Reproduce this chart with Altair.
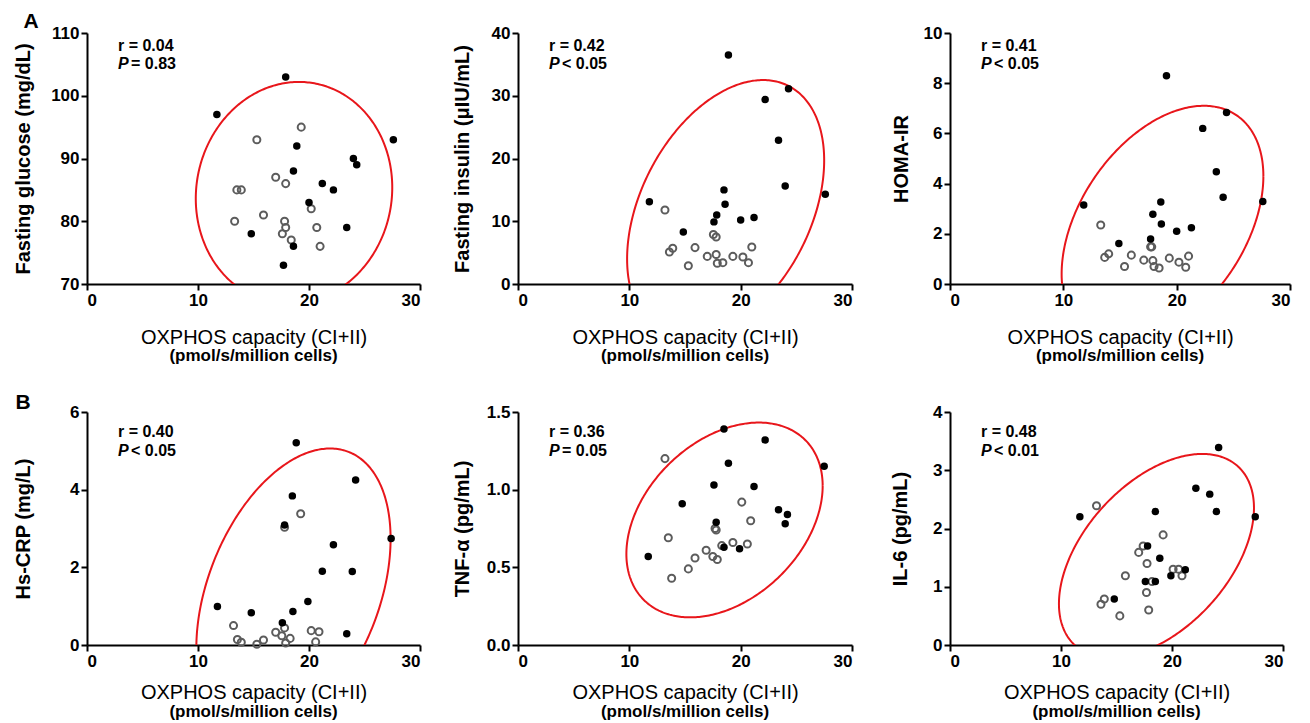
import altair as alt
import numpy as np
import pandas as pd

FONT = "Liberation Sans"
RED = "#e8161b"
GRAY = "#5c5c5c"

# ---------------- data ----------------
# Panel A1: fasting glucose
glu_filled_x = [11.7, 17.9, 27.6, 18.9, 24.0, 24.3, 18.6, 21.2, 22.2, 20.0, 23.4, 14.8, 18.6, 17.7]
glu_filled_y = [97, 103, 93, 92, 90, 89, 88, 86, 85, 83, 79, 78, 76, 73]
glu_open_x = [19.3, 15.3, 17.0, 17.9, 13.5, 13.9, 15.9, 13.3, 17.8, 17.9, 17.6, 18.4, 20.2, 20.7, 21.0]
glu_open_y = [95, 93, 87, 86, 85, 85, 81, 80, 80, 79, 78, 77, 82, 79, 76]

# Panel A2: fasting insulin
ins_filled_x = [18.9, 22.2, 24.3, 23.4, 24.0, 27.6, 11.8, 18.5, 18.6, 17.85, 17.6, 20.0, 21.2, 14.85]
ins_filled_y = [36.5, 29.4, 31.1, 22.9, 15.6, 14.3, 13.1, 15.0, 12.7, 11.0, 9.9, 10.2, 10.6, 8.3]
ins_open_x = [13.2, 17.55, 17.8, 13.9, 13.6, 15.9, 15.3, 17.0, 17.8, 17.9, 18.4, 19.3, 20.2, 20.7, 21.0]
ins_open_y = [11.8, 7.9, 7.5, 5.7, 5.1, 5.8, 2.9, 4.4, 4.7, 3.3, 3.4, 4.4, 4.3, 3.4, 5.9]

# Panel A3: HOMA-IR
homa_filled_x = [19.1, 24.4, 22.3, 23.5, 24.1, 27.6, 11.8, 18.6, 17.9, 18.65, 20.0, 21.3, 14.9, 17.7]
homa_filled_y = [8.3, 6.83, 6.2, 4.47, 3.46, 3.29, 3.15, 3.27, 2.78, 2.39, 2.1, 2.24, 1.61, 1.79]
homa_open_x = [13.3, 17.7, 17.8, 14.0, 13.65, 16.0, 15.4, 17.1, 17.9, 18.0, 18.45, 19.35, 20.2, 20.8, 21.05]
homa_open_y = [2.35, 1.48, 1.48, 1.2, 1.06, 1.15, 0.7, 0.95, 0.93, 0.7, 0.64, 1.03, 0.87, 0.67, 1.11]

# Panel B1: Hs-CRP
crp_filled_x = [18.85, 24.2, 18.5, 17.8, 22.2, 27.4, 21.2, 23.9, 19.9, 11.75, 14.8, 18.55, 17.6, 23.4]
crp_filled_y = [5.21, 4.25, 3.84, 3.09, 2.58, 2.74, 1.9, 1.89, 1.12, 0.99, 0.83, 0.86, 0.57, 0.29]
crp_open_x = [19.25, 17.8, 13.2, 13.55, 13.9, 15.3, 15.9, 17.0, 17.8, 17.55, 18.3, 17.9, 20.2, 20.9, 20.6]
crp_open_y = [3.38, 3.03, 0.50, 0.14, 0.07, 0.02, 0.13, 0.33, 0.44, 0.24, 0.17, 0.05, 0.37, 0.34, 0.08]

# Panel B2: TNF-alpha
tnf_filled_x = [18.5, 22.2, 18.9, 27.5, 17.6, 21.2, 14.75, 23.4, 24.2, 24.0, 17.8, 18.5, 19.9, 11.7]
tnf_filled_y = [1.39, 1.32, 1.17, 1.15, 1.03, 1.02, 0.91, 0.87, 0.84, 0.78, 0.79, 0.63, 0.62, 0.57]
tnf_open_x = [13.2, 13.5, 17.7, 17.8, 20.1, 20.9, 19.3, 20.6, 18.3, 16.9, 17.5, 17.9, 15.9, 15.3, 13.8]
tnf_open_y = [1.2, 0.69, 0.75, 0.74, 0.92, 0.80, 0.66, 0.65, 0.64, 0.61, 0.57, 0.55, 0.56, 0.49, 0.43]

# Panel B3: IL-6
il6_filled_x = [24.2, 22.15, 23.4, 24.0, 27.5, 11.7, 18.5, 17.8, 18.9, 21.2, 19.9, 17.6, 18.5, 14.8]
il6_filled_y = [3.39, 2.69, 2.59, 2.29, 2.2, 2.2, 2.29, 1.7, 1.49, 1.29, 1.19, 1.09, 1.09, 0.79]
il6_open_x = [13.2, 19.2, 17.4, 17.0, 17.75, 20.1, 20.6, 20.9, 15.8, 18.2, 17.7, 13.9, 13.6, 17.9, 15.3]
il6_open_y = [2.39, 1.89, 1.7, 1.59, 1.4, 1.3, 1.3, 1.19, 1.19, 1.09, 0.9, 0.79, 0.7, 0.6, 0.5]

# ellipse parameters: centre x, centre y, half-width, half-height, tilt (correlation)
ell_cx = [18.65, 18.65, 18.75, 18.6, 18.55, 18.6]
ell_cy = [84.5, 11.85, 2.35, 1.33, 0.805, 1.53]
ell_rx = [8.85, 8.85, 8.9, 8.75, 8.815, 8.785]
ell_ry = [17.7, 20.65, 4.75, 3.73, 0.627, 1.75]
ell_rho = [0.05, 0.38, 0.41, 0.377, 0.35, 0.47]

y_titles = ["Fasting glucose  (mg/dL)", "Fasting insulin (\u03bcIU/mL)", "HOMA-IR",
            "Hs-CRP  (mg/L)", "TNF-\u03b1 (pg/mL)", "IL-6 (pg/mL)"]
y_domains = [[70, 110], [0, 40], [0, 10], [0, 6], [0, 1.5], [0, 4]]
y_ticks = [[70, 80, 90, 100, 110], [0, 10, 20, 30, 40], [0, 2, 4, 6, 8, 10],
           [0, 2, 4, 6], [0, 0.5, 1.0, 1.5], [0, 1, 2, 3, 4]]
y_formats = ["d", "d", "d", "d", ".1f", "d"]
r_texts = ["r = 0.04", "r = 0.42", "r = 0.41", "r = 0.40", "r = 0.36", "r = 0.48"]
p_texts = ["= 0.83", "< 0.05", "< 0.05", "< 0.05", "= 0.05", "< 0.01"]
x_ticks = [0, 10, 20, 30]
x_title = "OXPHOS capacity (CI+II)"
x_subtitle = "(pmol/s/million  cells)"
letters = ["A", None, None, "B", None, None]

filled_x = [glu_filled_x, ins_filled_x, homa_filled_x, crp_filled_x, tnf_filled_x, il6_filled_x]
filled_y = [glu_filled_y, ins_filled_y, homa_filled_y, crp_filled_y, tnf_filled_y, il6_filled_y]
open_x = [glu_open_x, ins_open_x, homa_open_x, crp_open_x, tnf_open_x, il6_open_x]
open_y = [glu_open_y, ins_open_y, homa_open_y, crp_open_y, tnf_open_y, il6_open_y]

# ---------------- layout ----------------
widths = [333, 334, 340, 333, 334, 333]
heights = [251, 251, 251, 233, 233, 233]
ytitle_off = [64, 56, 49, 64, 56, 50]
xtitle_dy = [53, 53, 53, 47, 47, 47]
xsub_dy = [72, 72, 72, 67, 67, 67]
r_dy = [13, 13, 13, 20, 20, 20]
p_dy = [31, 31, 31, 39, 39, 39]
letter_dx = [-56, 0, 0, -64, 0, 0]
letter_dy = [-11, 0, 0, -9, 0, 0]


def panel(i):
    w, h = widths[i], heights[i]
    x_enc = alt.X("x:Q", scale=alt.Scale(domain=[0, 30], nice=False, zero=False),
                  axis=alt.Axis(values=x_ticks, format="d", title=x_title,
                                titleFontSize=20, titleFontWeight="normal",
                                titleY=xtitle_dy[i], titleBaseline="middle"))
    y_enc = alt.Y("y:Q", scale=alt.Scale(domain=y_domains[i], nice=False, zero=False),
                  axis=alt.Axis(values=y_ticks[i], format=y_formats[i], title=y_titles[i],
                                titleFontSize=20, titleFontWeight="bold",
                                titleX=-ytitle_off[i], titleY=h / 2, titleAngle=270,
                                titleAlign="center", titleBaseline="middle"))

    t = np.linspace(0, 2 * np.pi, 361)
    rho = ell_rho[i]
    ex = ell_cx[i] + ell_rx[i] * np.cos(t)
    ey = ell_cy[i] + ell_ry[i] * (rho * np.cos(t) + np.sqrt(1 - rho ** 2) * np.sin(t))
    ell_df = pd.DataFrame({"x": ex, "y": ey, "i": np.arange(len(t))})

    ellipse = alt.Chart(ell_df).mark_line(color=RED, strokeWidth=2, clip=True).encode(
        x=x_enc, y=y_enc, order="i:Q")
    opens = alt.Chart(pd.DataFrame({"x": open_x[i], "y": open_y[i]})).mark_point(
        shape="circle", filled=False, color=GRAY, size=50, strokeWidth=2, opacity=1
    ).encode(x=x_enc, y=y_enc)
    fills = alt.Chart(pd.DataFrame({"x": filled_x[i], "y": filled_y[i]})).mark_point(
        shape="circle", filled=True, color="black", size=56, opacity=1
    ).encode(x=x_enc, y=y_enc)

    r_txt = alt.Chart(pd.DataFrame({"t": [r_texts[i]]})).mark_text(
        align="left", baseline="middle", fontSize=16, fontWeight="bold", font=FONT, color="black"
    ).encode(text="t:N", x=alt.value(31), y=alt.value(r_dy[i]))
    p_lab = alt.Chart(pd.DataFrame({"t": ["P"]})).mark_text(
        align="left", baseline="middle", fontSize=16, fontWeight="bold", fontStyle="italic",
        font=FONT, color="black"
    ).encode(text="t:N", x=alt.value(31), y=alt.value(p_dy[i]))
    p_txt = alt.Chart(pd.DataFrame({"t": [p_texts[i]]})).mark_text(
        align="left", baseline="middle", fontSize=16, fontWeight="bold", font=FONT, color="black"
    ).encode(text="t:N", x=alt.value(44), y=alt.value(p_dy[i]))
    sub = alt.Chart(pd.DataFrame({"t": [x_subtitle]})).mark_text(
        align="center", baseline="middle", fontSize=17, fontWeight="bold", font=FONT, color="black"
    ).encode(text="t:N", x=alt.value(w / 2), y=alt.value(h + xsub_dy[i]))

    layers = [ellipse, opens, fills, r_txt, p_lab, p_txt, sub]
    if letters[i]:
        layers.append(alt.Chart(pd.DataFrame({"t": [letters[i]]})).mark_text(
            align="center", baseline="middle", fontSize=21, fontWeight="bold", font=FONT,
            color="black").encode(text="t:N", x=alt.value(letter_dx[i]),
                                  y=alt.value(letter_dy[i])))
    return alt.layer(*layers).properties(width=w, height=h)


chart = alt.concat(*[panel(i) for i in range(6)], columns=3,
                   spacing={"row": 128, "column": 98}, bounds="flush").properties(
    background="white", padding={"left": 4, "top": 3, "right": 5, "bottom": 2}
).configure_view(stroke=None).configure_axis(
    grid=False, domainColor="black", domainWidth=2, tickColor="black", tickWidth=2,
    tickSize=6, labelFont=FONT, labelFontSize=17, labelFontWeight="bold", labelColor="black",
    labelPadding=2, titleFont=FONT, titleColor="black"
).configure_text(font=FONT)

chart.save("out.html", embed_options={"renderer": "svg", "actions": False})
